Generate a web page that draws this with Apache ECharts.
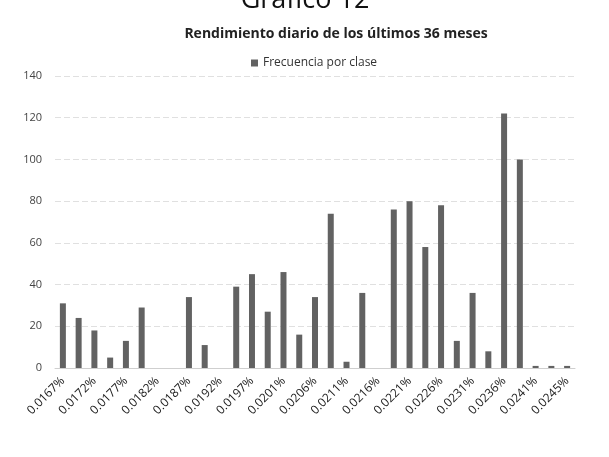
<!DOCTYPE html>
<html>
<head>
<meta charset="utf-8">
<script src="https://cdn.jsdelivr.net/npm/echarts@6/dist/echarts.min.js"></script>
<style>
  html, body { margin: 0; padding: 0; background: #fff; }
  #chart { width: 609px; height: 457px; }
</style>
</head>
<body>
<div id="chart"></div>
<script>
// clases (límites de rendimiento diario)
const clases = [
  '0.0167%', '0.0169%', '0.0172%', '0.0174%', '0.0177%', '0.0179%', '0.0182%', '0.0184%',
  '0.0187%', '0.0189%', '0.0192%', '0.0194%', '0.0197%', '0.0199%', '0.0201%', '0.0204%',
  '0.0206%', '0.0209%', '0.0211%', '0.0214%', '0.0216%', '0.0219%', '0.0221%', '0.0224%',
  '0.0226%', '0.0228%', '0.0231%', '0.0233%', '0.0236%', '0.0238%', '0.0241%', '0.0243%',
  '0.0245%'
];

// frecuencia por clase
const frecuencia = [
  31, 24, 18, 5, 13, 29, 0, 0,
  34, 11, 0, 39, 45, 27, 46, 16,
  34, 74, 3, 36, 0, 76, 80, 58,
  78, 13, 36, 8, 122, 100, 1, 1,
  1
];

const yTicks = [0, 20, 40, 60, 80, 100, 120, 140];

const chart = echarts.init(document.getElementById('chart'));

chart.setOption({
  backgroundColor: '#fff',
  animation: false,
  title: [
    {
      text: 'Gráfico 12',
      left: 300,
      textAlign: 'center',
      top: -18,
      textStyle: { fontFamily: 'Open Sans', fontSize: 27, fontWeight: 'normal', color: '#111' }
    },
    {
      text: 'Rendimiento diario de los últimos 36 meses',
      left: 331,
      textAlign: 'center',
      top: 22,
      textStyle: { fontFamily: 'Open Sans', fontSize: 14, fontWeight: 'bold', color: '#222' }
    }
  ],
  legend: {
    data: ['Frecuencia por clase'],
    left: 246,
    top: 52,
    itemWidth: 7,
    itemHeight: 7,
    itemGap: 4,
    icon: 'rect',
    textStyle: { fontFamily: 'Open Sans', fontSize: 12, color: '#333' }
  },
  grid: { left: 55, right: 34, top: 76, bottom: 89 },
  xAxis: {
    type: 'category',
    data: clases,
    axisLine: { lineStyle: { color: '#cfcfcf' } },
    axisTick: { show: false },
    axisLabel: {
      rotate: 45,
      interval: 1,
      margin: 11,
      fontFamily: 'Open Sans',
      fontSize: 12,
      color: '#222'
    }
  },
  yAxis: {
    type: 'value',
    min: yTicks[0],
    max: yTicks[yTicks.length - 1],
    interval: 20,
    axisLine: { show: false },
    axisTick: { show: false },
    axisLabel: { margin: 13, fontFamily: 'Open Sans', fontSize: 11, color: '#444' },
    splitLine: { lineStyle: { color: '#e0e0e0', type: [6, 3] } }
  },
  series: [
    {
      name: 'Frecuencia por clase',
      type: 'bar',
      data: frecuencia,
      barWidth: 6,
      itemStyle: { color: '#626262' }
    }
  ]
});
</script>
</body>
</html>
